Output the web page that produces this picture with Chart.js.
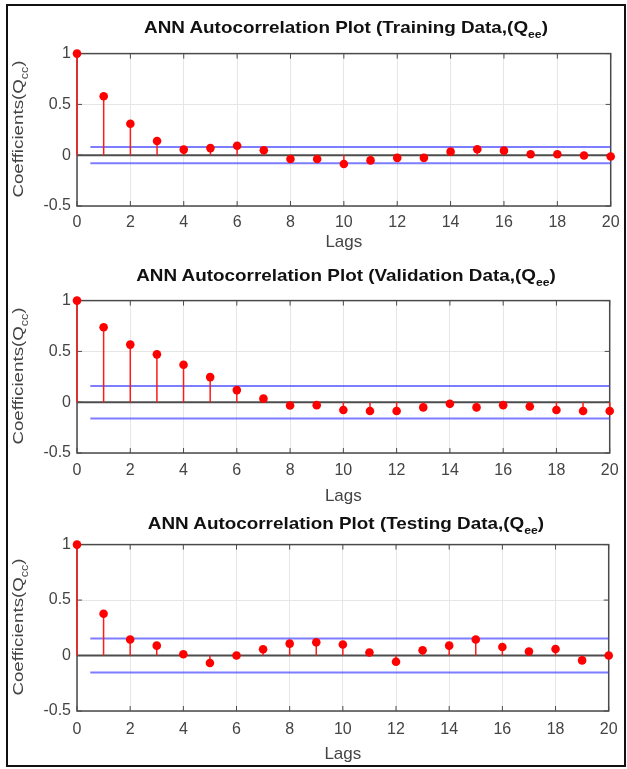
<!DOCTYPE html>
<html><head><meta charset="utf-8">
<script src="https://cdn.jsdelivr.net/npm/chart.js@4.4.0/dist/chart.umd.min.js"></script>
<style>
body{margin:0;background:#fff;width:627px;height:769px;position:relative;overflow:hidden;font-family:"Liberation Sans",Arial,sans-serif}
.frame{position:absolute;left:6px;top:4px;width:620px;height:763px;border:2px solid #111;box-sizing:border-box}
canvas{position:absolute;left:0}
.title{position:absolute;left:77px;width:538px;text-align:center;font-weight:bold;font-size:17px;color:#111;line-height:20px;white-space:nowrap;transform:scaleX(1.11)}
.sub{font-size:11px;position:relative;top:5px}
.ylab{position:absolute;width:200px;text-align:center;font-size:15px;color:#444;line-height:20px;transform:rotate(-90deg) scaleX(1.25);white-space:nowrap}
.ysub{font-size:10px;position:relative;top:5px}
</style></head>
<body>
<div class="frame"></div>
<script>
const lags = [0,1,2,3,4,5,6,7,8,9,10,11,12,13,14,15,16,17,18,19,20];
const trainingACF = [1,0.58,0.31,0.14,0.055,0.07,0.093,0.048,-0.038,-0.038,-0.087,-0.051,-0.026,-0.026,0.035,0.058,0.045,0.01,0.01,-0.003,-0.013];
const validationACF = [1,0.737,0.567,0.471,0.369,0.247,0.119,0.035,-0.032,-0.029,-0.077,-0.087,-0.087,-0.051,-0.016,-0.051,-0.029,-0.042,-0.077,-0.087,-0.087];
const testingACF = [1,0.376,0.145,0.089,0.012,-0.067,0,0.056,0.107,0.119,0.1,0.027,-0.056,0.047,0.089,0.145,0.077,0.036,0.059,-0.044,0];
const bounds = [0.08, 0.16, 0.153];
const titleNames = ["Training Data", "Validation Data", "Testing Data"];
const xTicks = {min:0, max:20, step:2};
const yTicks = {min:-0.5, max:1, step:0.5};
const boundStart = 0.5;

const layouts = [
  {top:50, bottom:206, tickY:223, lagsY:242, titleY:27},
  {top:297, bottom:453, tickY:471, lagsY:496, titleY:275},
  {top:541, bottom:711, tickY:730, lagsY:754, titleY:523}
];
const series = [trainingACF, validationACF, testingACF];
const FONT = '"Liberation Sans", Arial, sans-serif';

const boxPlugin = {
  id:'box',
  beforeDatasetsDraw(chart){
    const {ctx, chartArea:a, scales:{x,y}} = chart;
    ctx.save();
    ctx.strokeStyle = '#4a4a4a'; ctx.lineWidth = 1.5;
    ctx.strokeRect(a.left, a.top, a.right-a.left, a.bottom-a.top);
    ctx.lineWidth = 1;
    const L = 5;
    ctx.beginPath();
    x.ticks.forEach(t=>{const p=x.getPixelForValue(t.value); ctx.moveTo(p,a.top); ctx.lineTo(p,a.top+L); ctx.moveTo(p,a.bottom); ctx.lineTo(p,a.bottom-L);});
    y.ticks.forEach(t=>{const p=y.getPixelForValue(t.value); ctx.moveTo(a.left,p); ctx.lineTo(a.left+L,p); ctx.moveTo(a.right,p); ctx.lineTo(a.right-L,p);});
    ctx.stroke();
    ctx.restore();
  }
};

layouts.forEach((L, i) => {
  const vals = series[i];
  const b = bounds[i];
  const padTop = 12, padBot = 12;
  const cTop = L.top - padTop;
  const cH = (L.lagsY + padBot) - cTop;
  const canvas = document.createElement('canvas');
  canvas.width = 627; canvas.height = cH;
  canvas.style.top = cTop + 'px';
  canvas.style.width = '627px'; canvas.style.height = cH + 'px';
  document.body.appendChild(canvas);

  const title = document.createElement('div');
  title.className = 'title';
  title.style.top = (L.titleY - 9) + 'px';
  title.innerHTML = 'ANN Autocorrelation Plot (' + titleNames[i] + ',(Q<span class="sub">ee</span>)';
  document.body.appendChild(title);

  const yl = document.createElement('div');
  yl.className = 'ylab';
  yl.style.left = (19 - 100) + 'px';
  yl.style.top = ((L.top + L.bottom)/2 - 10) + 'px';
  yl.innerHTML = 'Coefficients(Q<span class="ysub">cc</span>)';
  document.body.appendChild(yl);

  const stems = [];
  lags.forEach((k, j) => { stems.push({x:k,y:0},{x:k,y:vals[j]},{x:k,y:null}); });
  const markers = lags.map((k, j) => ({x:k, y:vals[j]}));
  const axesH = L.bottom - L.top;
  const tickFont = 16, tickLH = tickFont*1.2;
  const titleFont = 17, titleLH = titleFont*1.2;

  new Chart(canvas, {
    type:'line',
    data:{datasets:[
      {data:markers, showLine:false, pointRadius:4.3, pointBackgroundColor:'#ff0000', pointBorderWidth:0, clip:false},
      {data:stems, borderColor:'#ff1a1a', borderWidth:1.5, pointRadius:0, spanGaps:false, clip:false},
      {data:[{x:boundStart,y:b},{x:lags[lags.length-1],y:b}], borderColor:'rgba(70,70,255,0.7)', borderWidth:2, pointRadius:0},
      {data:[{x:boundStart,y:-b},{x:lags[lags.length-1],y:-b}], borderColor:'rgba(70,70,255,0.7)', borderWidth:2, pointRadius:0},
      {data:[{x:lags[0],y:0},{x:lags[lags.length-1],y:0}], borderColor:'#4d4d4d', borderWidth:2, pointRadius:0}
    ]},
    options:{
      responsive:false, animation:false, devicePixelRatio:1,
      layout:{padding:{top:padTop, right:627-615, left:0, bottom:0}},
      plugins:{legend:{display:false}, tooltip:{enabled:false}},
      scales:{
        x:{type:'linear', min:xTicks.min, max:xTicks.max, offset:false,
          ticks:{stepSize:xTicks.step, color:'#444', font:{family:FONT, size:tickFont}, padding:L.tickY - L.bottom - tickLH/2, maxRotation:0},
          grid:{color:'#e6e6e6', lineWidth:1, drawTicks:false},
          border:{display:false},
          title:{display:true, text:'Lags', color:'#444', font:{family:FONT, size:titleFont}, padding:{top:0, bottom:padBot - titleLH/2}},
          afterFit(s){ s.height = cH - padTop - axesH; }
        },
        y:{type:'linear', min:yTicks.min, max:yTicks.max,
          ticks:{stepSize:yTicks.step, color:'#444', font:{family:FONT, size:tickFont}, padding:6,
            callback:(v)=>String(Math.round(v*10)/10)},
          grid:{color:'#e6e6e6', lineWidth:1, drawTicks:false},
          border:{display:false},
          afterFit(s){ s.width = 77; }
        }
      }
    },
    plugins:[boxPlugin]
  });
});
</script>
</body></html>
